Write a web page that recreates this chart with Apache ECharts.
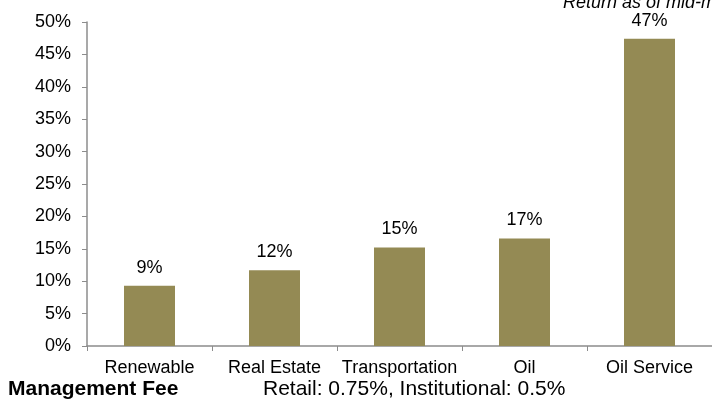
<!DOCTYPE html>
<html><head><meta charset="utf-8">
<script src="https://cdn.jsdelivr.net/npm/echarts@6/dist/echarts.min.js"></script>
<style>html,body{margin:0;padding:0;background:#fff}#c{width:712px;height:401px}</style>
</head><body><div id="c"></div>
<script>
const categories = ['Renewable', 'Real Estate', 'Transportation', 'Oil', 'Oil Service'];
const returns = [9.3, 11.7, 15.2, 16.6, 47.4];
const labels = ['9%', '12%', '15%', '17%', '47%'];
const titleText = 'Return as of mid-month';
const feeLabel = 'Management Fee';
const feeText = 'Retail: 0.75%, Institutional: 0.5%';

const chart = echarts.init(document.getElementById('c'));
const font = 'Liberation Sans, Arial, sans-serif';
chart.setOption({
  animation: false,
  grid: { left: 87, top: 22, bottom: 55, width: 630, containLabel: false },
  xAxis: {
    type: 'category', data: categories,
    axisLine: { lineStyle: { color: '#8c8c8c', width: 1.5 } },
    axisTick: { show: true, length: 5, lineStyle: { color: '#8c8c8c' } },
    axisLabel: { color: '#000', fontSize: 18, fontFamily: font, margin: 13, interval: 0 }
  },
  yAxis: {
    type: 'value', min: 0, max: 50, interval: 5,
    axisLine: { show: true, lineStyle: { color: '#8c8c8c', width: 1.5 } },
    axisTick: { show: true, length: 5, lineStyle: { color: '#8c8c8c' } },
    splitLine: { show: false },
    axisLabel: { color: '#000', fontSize: 18, fontFamily: font, margin: 16, formatter: '{value}%' }
  },
  series: [{
    type: 'bar', data: returns, barWidth: 51,
    itemStyle: { color: '#948a54' },
    label: { show: true, position: 'top', distance: 9, color: '#000', fontSize: 18, fontFamily: font,
      formatter: p => labels[p.dataIndex] }
  }],
  graphic: [
    { type: 'text', left: 563, top: -6, style: { text: titleText, fontSize: 18, fontStyle: 'italic', fontFamily: font, fill: '#000' } },
    { type: 'text', left: 8, top: 379, style: { text: feeLabel, fontSize: 21, fontWeight: 'bold', fontFamily: font, fill: '#000' } },
    { type: 'text', left: 263, top: 379, style: { text: feeText, fontSize: 21, fontFamily: font, fill: '#000' } }
  ]
});
</script></body></html>
